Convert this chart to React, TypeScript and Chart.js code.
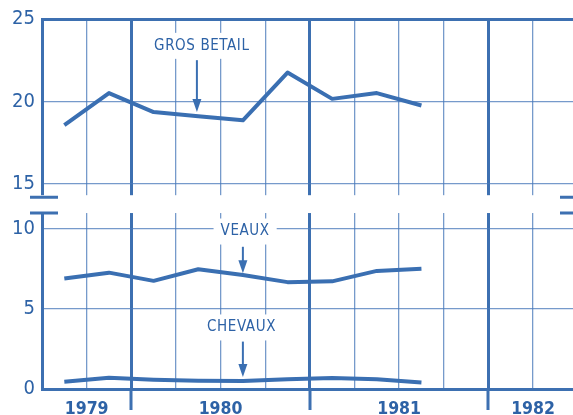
import React, { useEffect, useRef } from 'react';
import { Chart, registerables } from 'chart.js';

Chart.register(...registerables);

// Quarterly observations (1979 T3 .. 1981 T3)
const QUARTERS = ['1979 T3', '1979 T4', '1980 T1', '1980 T2', '1980 T3', '1980 T4', '1981 T1', '1981 T2', '1981 T3'];
const GROS_BETAIL = [18.55, 20.5, 19.35, 19.1, 18.85, 21.75, 20.15, 20.5, 19.75];
const VEAUX = [6.87, 7.24, 6.73, 7.45, 7.1, 6.65, 6.7, 7.35, 7.49];
const CHEVAUX = [0.45, 0.7, 0.58, 0.52, 0.5, 0.6, 0.68, 0.6, 0.4];

// Axis definitions (x in quarters from start of 1979 T3)
const YEAR_LABELS = ['1979', '1980', '1981', '1982'];
const YEAR_LABEL_AT = [1, 4, 8, 11];
const YEAR_STARTS = [2, 6, 10];
const TOP_TICKS = [15, 20, 25];
const BOTTOM_TICKS = [0, 5, 10];

const LINE = '#3a6fb2';
const THICK = '#3d70b1';
const THIN = 'rgba(72,120,186,0.75)';
const TEXT = '#2d62a6';
const BG = '#ffffff';
const FONT = '"DejaVu Sans Condensed", "DejaVu Sans", sans-serif';

function drawLabel(ctx: CanvasRenderingContext2D, text: string, cx: number, cy: number) {
  ctx.save();
  ctx.font = `15px ${FONT}`;
  (ctx as any).letterSpacing = '0.6px';
  const w = ctx.measureText(text).width;
  ctx.fillStyle = BG;
  ctx.fillRect(cx - w / 2 - 7, cy - 13, w + 14, 26);
  ctx.fillStyle = TEXT;
  ctx.textAlign = 'center';
  ctx.textBaseline = 'middle';
  ctx.fillText(text, cx, cy);
  ctx.restore();
}

function drawArrow(ctx: CanvasRenderingContext2D, x: number, y1: number, y2: number) {
  ctx.save();
  ctx.fillStyle = BG;
  ctx.fillRect(x - 7, y1 - 2, 14, y2 - y1 - 12);
  ctx.strokeStyle = LINE;
  ctx.lineWidth = 2;
  ctx.beginPath();
  ctx.moveTo(x, y1);
  ctx.lineTo(x, y2 - 10);
  ctx.stroke();
  ctx.fillStyle = LINE;
  ctx.beginPath();
  ctx.moveTo(x - 4.5, y2 - 13);
  ctx.lineTo(x + 4.5, y2 - 13);
  ctx.lineTo(x, y2);
  ctx.closePath();
  ctx.fill();
  ctx.restore();
}

const decor = {
  id: 'decor',
  beforeDraw(chart: any) {
    const { ctx, width, height } = chart;
    ctx.save();
    ctx.fillStyle = BG;
    ctx.fillRect(0, 0, width, height);
    ctx.restore();
  },
  beforeDatasetsDraw(chart: any) {
    const { ctx, chartArea, scales } = chart;
    const x = scales.x;
    const yT = scales.yTop;
    const yB = scales.yBot;
    const gapTop = yT.getPixelForValue(14.3);
    const gapBot = yB.getPixelForValue(10.95);
    ctx.save();
    // axis break
    if (gapBot > gapTop) {
      ctx.fillStyle = BG;
      ctx.fillRect(0, gapTop, chart.width, gapBot - gapTop);
    }
    ctx.strokeStyle = THICK;
    ctx.lineWidth = 3;
    const capT = gapTop + 2;
    const capB = gapBot;
    ctx.beginPath();
    ctx.moveTo(30, capT); ctx.lineTo(58, capT);
    ctx.moveTo(30, capB); ctx.lineTo(58, capB);
    ctx.moveTo(chartArea.right - 13, capT); ctx.lineTo(chartArea.right, capT);
    ctx.moveTo(chartArea.right - 13, capB); ctx.lineTo(chartArea.right, capB);
    ctx.stroke();
    // year separators extend below axis
    ctx.beginPath();
    YEAR_STARTS.forEach((q) => {
      const px = Math.round(x.getPixelForValue(q));
      ctx.moveTo(px, chartArea.bottom);
      ctx.lineTo(px, chartArea.bottom + 21);
    });
    ctx.stroke();
    ctx.restore();

    // annotations
    drawLabel(ctx, 'GROS BETAIL', x.getPixelForValue(3.58), yT.getPixelForValue(23.37));
    drawArrow(ctx, x.getPixelForValue(3.47), yT.getPixelForValue(22.5), yT.getPixelForValue(19.35));
    drawLabel(ctx, 'VEAUX', x.getPixelForValue(4.55), yB.getPixelForValue(9.8));
    drawArrow(ctx, x.getPixelForValue(4.5), yB.getPixelForValue(8.85), yB.getPixelForValue(7.2));
    drawLabel(ctx, 'CHEVAUX', x.getPixelForValue(4.47), yB.getPixelForValue(3.83));
    drawArrow(ctx, x.getPixelForValue(4.5), yB.getPixelForValue(2.95), yB.getPixelForValue(0.75));
  },
};

export default function App() {
  const ref = useRef<HTMLCanvasElement>(null);
  useEffect(() => {
    const canvas = ref.current!;
    const pts = (arr: number[]) => arr.map((v, i) => ({ x: i + 0.5, y: v }));
    const lineDs = (label: string, arr: number[], axis: string) => ({
      label,
      data: pts(arr),
      yAxisID: axis,
      borderColor: LINE,
      borderWidth: 4,
      pointRadius: 0,
      tension: 0,
      borderJoinStyle: 'round' as const,
      borderCapStyle: 'butt' as const,
      fill: false,
    });
    const chart = new Chart(canvas, {
      type: 'line',
      data: {
        labels: QUARTERS,
        datasets: [
          lineDs('Gros bétail', GROS_BETAIL, 'yTop'),
          lineDs('Veaux', VEAUX, 'yBot'),
          lineDs('Chevaux', CHEVAUX, 'yBot'),
        ],
      },
      options: {
        responsive: false,
        animation: false,
        layout: { padding: { top: 16, right: 0, left: 0, bottom: 0 } },
        plugins: { legend: { display: false }, tooltip: { enabled: false } },
        scales: {
          x: {
            type: 'linear',
            min: 0,
            max: 11.895,
            afterBuildTicks: (s: any) => {
              s.ticks = Array.from({ length: 12 }, (_, i) => ({ value: i }));
            },
            afterFit: (s: any) => { s.height = 26; },
            grid: {
              drawTicks: false,
              color: (c: any) => (YEAR_STARTS.includes(c.tick?.value) ? THICK : THIN),
              lineWidth: (c: any) => (YEAR_STARTS.includes(c.tick?.value) ? 3 : 1.3),
            },
            border: { display: true, color: THICK, width: 3 },
            ticks: {
              autoSkip: false,
              maxRotation: 0,
              padding: 10,
              color: TEXT,
              font: { family: FONT, size: 17.5, weight: 'bold' },
              callback: (v: any) => {
                const i = YEAR_LABEL_AT.indexOf(Number(v));
                return i >= 0 ? YEAR_LABELS[i] : '';
              },
            },
          },
          yBot: {
            type: 'linear',
            position: 'left',
            stack: 'v',
            stackWeight: 185,
            min: 0,
            max: 11.42,
            afterBuildTicks: (s: any) => { s.ticks = BOTTOM_TICKS.map((v) => ({ value: v })); },
            afterFit: (s: any) => { s.width = 42; },
            grid: {
              drawTicks: false,
              color: (c: any) => (c.tick?.value === 0 ? THICK : THIN),
              lineWidth: (c: any) => (c.tick?.value === 0 ? 3 : 1.3),
            },
            border: { display: true, color: THICK, width: 3 },
            ticks: { color: TEXT, padding: 7, font: { family: FONT, size: 20 } },
          },
          yTop: {
            type: 'linear',
            position: 'left',
            stack: 'v',
            stackWeight: 188,
            min: 13.675,
            max: 25,
            afterBuildTicks: (s: any) => { s.ticks = TOP_TICKS.map((v) => ({ value: v })); },
            afterFit: (s: any) => { s.width = 42; },
            grid: {
              drawTicks: false,
              color: (c: any) => (c.tick?.value === 25 ? THICK : THIN),
              lineWidth: (c: any) => (c.tick?.value === 25 ? 3 : 1.3),
            },
            border: { display: true, color: THICK, width: 3 },
            ticks: { color: TEXT, padding: 7, font: { family: FONT, size: 20 } },
          },
        },
      } as any,
      plugins: [decor],
    });
    return () => chart.destroy();
  }, []);
  return (
    <div style={{ position: 'fixed', left: 0, top: 0, width: 573, height: 415, background: BG }}>
      <canvas ref={ref} width={573} height={415} style={{ display: 'block' }} />
    </div>
  );
}
